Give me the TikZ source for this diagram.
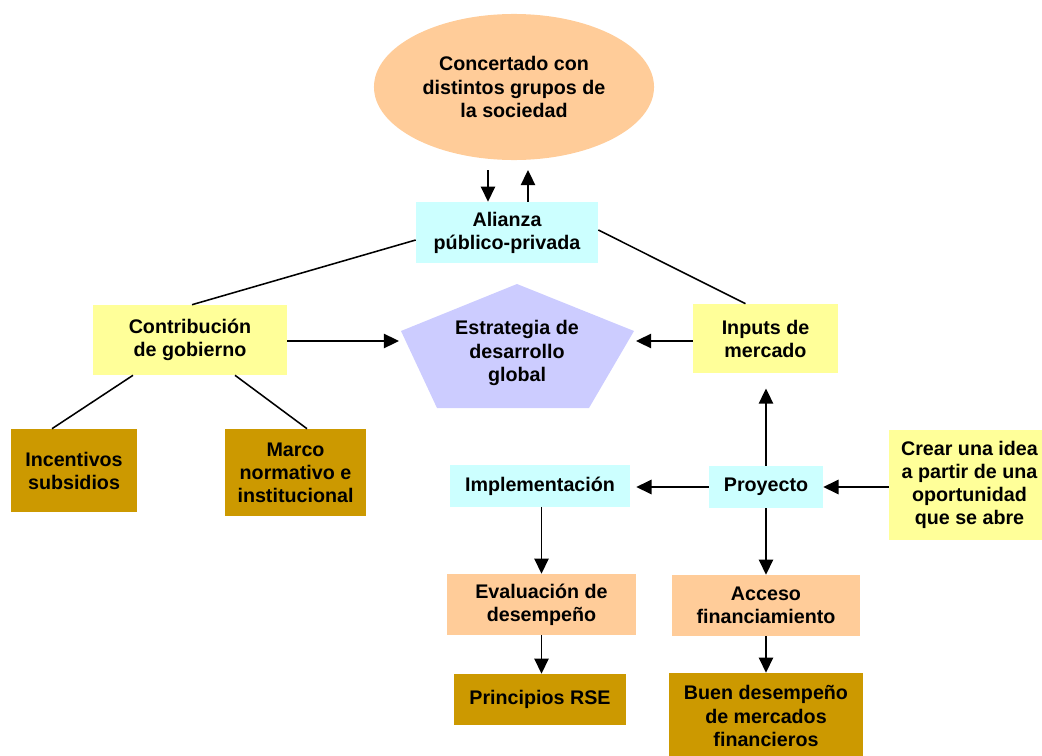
\documentclass[tikz,border=0pt]{standalone}
\usepackage{fontspec}
\setmainfont{Liberation Sans}
\usepackage{tikz}
\usetikzlibrary{shapes,arrows.meta,calc}
\usepackage{xcolor}
\definecolor{amarillo}{HTML}{FFFF99}
\definecolor{celeste}{HTML}{CCFFFF}
\definecolor{durazno}{HTML}{FFCC99}
\definecolor{ocre}{HTML}{CC9900}
\definecolor{lila}{HTML}{CCCCFF}

\begin{document}
\begin{tikzpicture}[x=0.025cm,y=-0.025cm,font=\fontsize{14}{16.4}\selectfont\bfseries]
    %styles
    \tikzstyle{caja}=[rectangle,align=center,inner sep=0pt]
    \tikzstyle{gob}=[caja,fill=amarillo]
    \tikzstyle{proc}=[caja,fill=celeste]
    \tikzstyle{eval}=[caja,fill=durazno]
    \tikzstyle{res}=[caja,fill=ocre]
    \tikzstyle{enlace}=[line width=1.1pt]
    \tikzstyle{commu}=[-{Triangle[length=0.38cm,width=0.36cm]},line width=1.1pt]
    \useasboundingbox (0,0) rectangle (1042,756);
    %nodes
    \node[ellipse,fill=durazno,align=center,minimum width=7cm,minimum height=3.65cm] (conc) at (514,87) {Concertado con\\distintos grupos de\\la sociedad};
    \node[proc,minimum width=4.55cm,minimum height=1.525cm] (ali) at (507,232.5) {Alianza\\público-privada};
    \node[gob,minimum width=4.85cm,minimum height=1.75cm] (contrib) at (190,340) {Contribución\\de gobierno};
    \node[gob,minimum width=3.625cm,minimum height=1.725cm] (inputs) at (765.5,338.5) {Inputs de\\mercado};
    \fill[lila] (517,284) -- (634,331) -- (589,408) -- (437,408) -- (401,331) -- cycle;
    \node[caja] (estr) at (517,353) {Estrategia de\\desarrollo\\global};
    \coordinate (estrL) at (399,341);
    \coordinate (estrR) at (636,341);
    \node[res,minimum width=3.15cm,minimum height=2.075cm] (incent) at (74,470.5) {Incentivos\\subsidios};
    \node[res,minimum width=3.525cm,minimum height=2.175cm] (marco) at (295.5,472.5) {Marco\\normativo e\\institucional};
    \node[proc,minimum width=4.5cm,minimum height=1.025cm] (impl) at (540,486) {Implementación};
    \node[proc,minimum width=2.85cm,minimum height=1.05cm] (proy) at (766,487) {Proyecto};
    \node[gob,minimum width=4.025cm,minimum height=2.75cm] (crear) at (969.5,485) {Crear una idea\\a partir de una\\oportunidad\\que se abre};
    \node[eval,minimum width=4.725cm,minimum height=1.525cm] (evalu) at (541.5,604.5) {Evaluación de\\desempeño};
    \node[eval,minimum width=4.7cm,minimum height=1.525cm] (acceso) at (766,605.5) {Acceso\\financiamiento};
    \node[res,minimum width=4.3cm,minimum height=1.275cm] (princ) at (540,699.5) {Principios RSE};
    \node[res,minimum width=4.85cm,minimum height=2.15cm] (buen) at (766,716) {Buen desempeño\\de mercados\\financieros};
    \coordinate (baja) at (488,170);
    \coordinate (sube) at (528,170);

    %arrows
    \draw[commu] (baja) -- (baja |- ali.north);
    \draw[commu] (ali.north -| sube) -- (sube);
    \draw[enlace] ($(ali.west)+(0,7.5)$) -- ($(contrib.north)+(2,0)$);
    \draw[enlace] ($(ali.east)+(0,-2.5)$) -- ($(inputs.north)+(-20,0)$);
    \draw[commu] (contrib.east |- estrL) -- (estrL);
    \draw[commu] (inputs.west |- estrR) -- (estrR);
    \draw[enlace] ($(contrib.south)+(-57,0)$) -- ($(incent.north)+(-22,0)$);
    \draw[enlace] ($(contrib.south)+(45,0)$) -- ($(marco.north)+(11.5,0)$);
    \draw[commu,shorten >=0.38cm] (proy.north) -- (proy.north |- inputs.south);
    \draw[commu,shorten >=0.15cm] (proy.west) -- (impl.east |- proy.west);
    \draw[commu] (crear.west |- proy.east) -- (proy.east);
    \draw[commu] (impl.south -| evalu.north) -- (evalu.north);
    \draw[commu] (proy.south) -- (acceso.north);
    \draw[commu] (evalu.south) -- (evalu.south |- princ.north);
    \draw[commu] (acceso.south) -- (buen.north);

    \end{tikzpicture}
\end{document}
